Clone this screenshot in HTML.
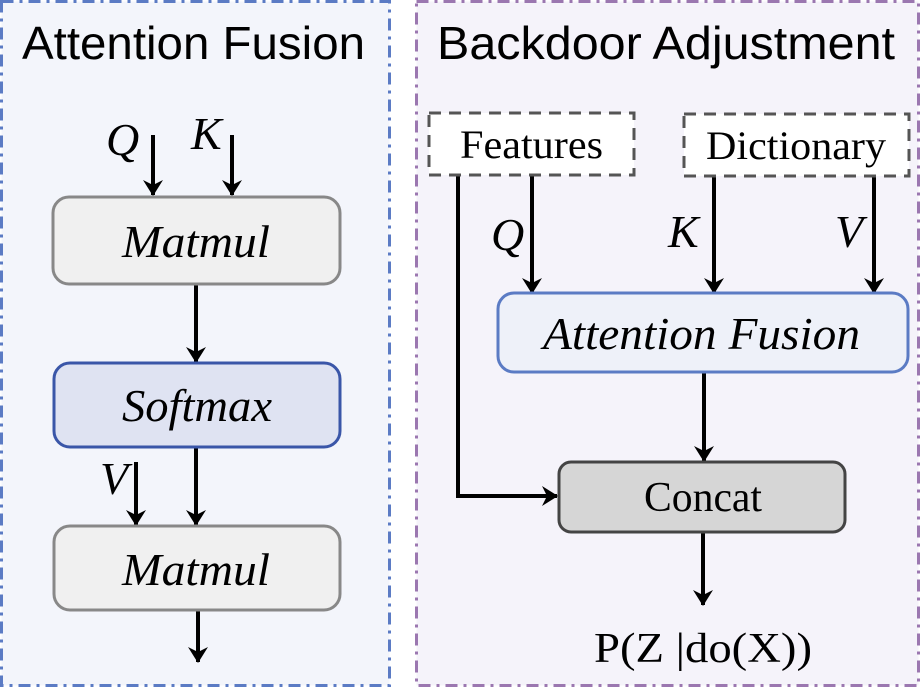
<!DOCTYPE html>
<html><head><meta charset="utf-8"><style>
html,body{margin:0;padding:0;background:#fff}
svg{display:block}
.t{font-family:"Liberation Serif",serif;fill:#000}
.s{font-family:"Liberation Sans",sans-serif;fill:#000}
</style></head><body>
<svg width="921" height="687" viewBox="0 0 921 687" xmlns="http://www.w3.org/2000/svg">
<defs>
<marker id="a" markerWidth="16" markerHeight="20" refX="15" refY="10" orient="auto" markerUnits="userSpaceOnUse">
<path d="M0,0 L16,10 L0,20 L5,10 Z" fill="#000"/>
</marker>
</defs>
<rect x="1.5" y="1.5" width="388" height="684" fill="#f3f5fb" stroke="#5b7bc4" stroke-width="3" stroke-dasharray="12,6,3,6"/>
<rect x="416.5" y="1.5" width="502" height="684" fill="#f5f3fa" stroke="#9b77b0" stroke-width="3" stroke-dasharray="12,6,3,6"/>
<text class="s" x="22" y="59" font-size="46" textLength="343" lengthAdjust="spacingAndGlyphs">Attention Fusion</text>
<text class="s" x="437" y="59" font-size="46" textLength="458" lengthAdjust="spacingAndGlyphs">Backdoor Adjustment</text>

<g stroke="#000" stroke-width="4" fill="none">
<line x1="153" y1="135" x2="153" y2="195" marker-end="url(#a)"/>
<line x1="232" y1="135" x2="232" y2="195" marker-end="url(#a)"/>
<line x1="196" y1="284" x2="196" y2="362" marker-end="url(#a)"/>
<line x1="136" y1="462" x2="136" y2="525" marker-end="url(#a)"/>
<line x1="196" y1="447" x2="196" y2="525" marker-end="url(#a)"/>
<line x1="198" y1="611" x2="198" y2="662" marker-end="url(#a)"/>

<polyline points="458,176 458,496 557,496" marker-end="url(#a)"/>
<line x1="532" y1="176" x2="532" y2="293" marker-end="url(#a)"/>
<line x1="714" y1="176" x2="714" y2="293" marker-end="url(#a)"/>
<line x1="874" y1="176" x2="874" y2="293" marker-end="url(#a)"/>
<line x1="704" y1="372" x2="704" y2="461" marker-end="url(#a)"/>
<line x1="703" y1="532" x2="703" y2="605" marker-end="url(#a)"/>
</g>

<text class="t" x="106" y="155" font-size="46" font-style="italic">Q</text>
<text class="t" x="191" y="149" font-size="46" font-style="italic">K</text>
<text class="t" x="100" y="494" font-size="46" font-style="italic">V</text>

<rect x="53" y="197" width="287" height="87" rx="16" fill="#f0f0f0" stroke="#888" stroke-width="3"/>
<text class="t" x="122" y="257" font-size="46" font-style="italic" textLength="148" lengthAdjust="spacingAndGlyphs">Matmul</text>
<rect x="54" y="363" width="286" height="84" rx="16" fill="#dfe3f2" stroke="#3a56a8" stroke-width="3"/>
<text class="t" x="122" y="421" font-size="46" font-style="italic" textLength="150" lengthAdjust="spacingAndGlyphs">Softmax</text>
<rect x="54" y="526" width="286" height="84" rx="16" fill="#f0f0f0" stroke="#888" stroke-width="3"/>
<text class="t" x="122" y="585" font-size="46" font-style="italic" textLength="148" lengthAdjust="spacingAndGlyphs">Matmul</text>

<rect x="429" y="113" width="205" height="62" fill="#fff" stroke="#555" stroke-width="3" stroke-dasharray="12,8"/>
<text class="t" x="460" y="158" font-size="40" textLength="143" lengthAdjust="spacingAndGlyphs">Features</text>
<rect x="684" y="114" width="225" height="62" fill="#fff" stroke="#555" stroke-width="3" stroke-dasharray="12,8"/>
<text class="t" x="706" y="159" font-size="40" textLength="180" lengthAdjust="spacingAndGlyphs">Dictionary</text>

<text class="t" x="491" y="250" font-size="46" font-style="italic">Q</text>
<text class="t" x="668" y="247" font-size="46" font-style="italic">K</text>
<text class="t" x="835" y="247" font-size="46" font-style="italic">V</text>

<rect x="498" y="293" width="410" height="79" rx="16" fill="#eef1f9" stroke="#5b7bc4" stroke-width="3"/>
<text class="t" x="543" y="349" font-size="46" font-style="italic" textLength="317" lengthAdjust="spacingAndGlyphs">Attention Fusion</text>

<rect x="559" y="462" width="286" height="70" rx="12" fill="#d6d6d6" stroke="#444" stroke-width="3"/>
<text class="t" x="644" y="511" font-size="42" textLength="118" lengthAdjust="spacingAndGlyphs">Concat</text>

<text class="t" x="594" y="662" font-size="42" textLength="218" lengthAdjust="spacingAndGlyphs">P(Z |do(X))</text>
</svg>
</body></html>
